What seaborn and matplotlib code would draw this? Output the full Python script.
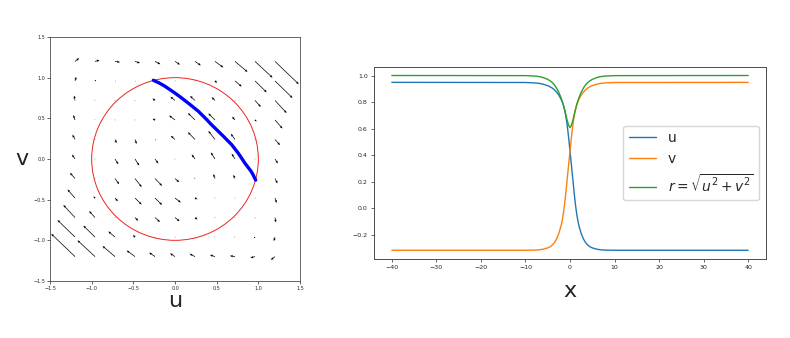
import numpy as np
import pandas as pd
import matplotlib
matplotlib.use("Agg")
import matplotlib.pyplot as plt
import seaborn as sns

# ---------------- data ----------------
# quiver grid (columns: u, rows: v from top to bottom)
grid_u = [-1.2, -0.96, -0.72, -0.48, -0.24, 0.0, 0.24, 0.48, 0.72, 0.96, 1.2]
grid_v = [1.2, 0.96, 0.72, 0.48, 0.24, 0.0, -0.24, -0.48, -0.72, -0.96, -1.2]

field_du = [
    [0.05, 0.055, 0.06, 0.06, 0.065, 0.06, 0.07, 0.10, 0.15, 0.21, 0.285],
    [0.015, 0.015, 0.01, 0.008, 0.003, -0.005, 0.003, 0.025, 0.08, 0.14, 0.21],
    [-0.01, -0.005, 0.003, -0.005, -0.03, -0.055, -0.06, -0.04, 0.005, 0.07, 0.14],
    [-0.02, -0.005, 0.005, 0.002, -0.03, -0.07, -0.085, -0.08, -0.035, 0.02, 0.09],
    [-0.03, 0.0, 0.02, 0.02, 0.01, -0.05, -0.085, -0.08, -0.05, 0.0, 0.06],
    [-0.035, 0.003, 0.04, 0.05, 0.04, 0.0, -0.04, -0.05, -0.04, -0.003, 0.035],
    [-0.06, 0.0, 0.05, 0.08, 0.085, 0.05, -0.01, -0.02, -0.02, 0.0, 0.03],
    [-0.09, -0.02, 0.035, 0.08, 0.085, 0.07, 0.03, -0.002, -0.005, 0.005, 0.02],
    [-0.14, -0.07, -0.005, 0.04, 0.06, 0.055, 0.03, 0.005, -0.003, 0.005, 0.01],
    [-0.21, -0.14, -0.08, -0.025, -0.003, 0.005, -0.003, -0.008, -0.01, -0.015, -0.015],
    [-0.285, -0.21, -0.15, -0.10, -0.07, -0.06, -0.065, -0.06, -0.06, -0.055, -0.05],
]
field_dv = [
    [0.04, 0.015, -0.01, -0.02, -0.035, -0.04, -0.05, -0.075, -0.13, -0.20, -0.28],
    [0.05, 0.015, -0.005, -0.005, -0.003, 0.005, -0.003, -0.025, -0.07, -0.14, -0.21],
    [0.06, 0.01, -0.003, 0.005, 0.025, 0.045, 0.055, 0.04, -0.005, -0.08, -0.155],
    [0.06, 0.008, -0.005, -0.002, 0.015, 0.055, 0.085, 0.08, 0.04, -0.02, -0.105],
    [0.06, 0.0, -0.045, -0.055, -0.01, 0.045, 0.09, 0.105, 0.07, 0.0, -0.07],
    [0.055, -0.003, -0.065, -0.08, -0.055, 0.0, 0.055, 0.08, 0.065, 0.003, -0.055],
    [0.07, 0.0, -0.07, -0.105, -0.09, -0.045, 0.01, 0.055, 0.045, 0.0, -0.06],
    [0.105, 0.02, -0.04, -0.08, -0.085, -0.055, -0.015, 0.002, 0.005, -0.008, -0.06],
    [0.155, 0.08, 0.005, -0.04, -0.055, -0.045, -0.025, -0.005, 0.003, -0.01, -0.06],
    [0.21, 0.14, 0.07, 0.025, 0.003, -0.005, 0.003, 0.005, 0.005, -0.015, -0.05],
    [0.28, 0.20, 0.13, 0.075, 0.05, 0.04, 0.035, 0.02, 0.01, -0.015, -0.04],
]

circle_center = (0.0, 0.0)
circle_radius = 1.0

# phase-plane trajectory (blue curve)
traj_u = [-0.26, -0.19, -0.12, -0.05, 0.0, 0.08, 0.18, 0.28, 0.38, 0.43,
          0.48, 0.58, 0.68, 0.76, 0.84, 0.912, 0.935, 0.968]
traj_v = [0.968, 0.935, 0.894, 0.845, 0.81, 0.75, 0.67, 0.587, 0.485, 0.43,
          0.38, 0.28, 0.176, 0.07, -0.053, -0.15, -0.19, -0.26]

# profiles along x
x_vals = [-40, -10, -8, -7, -6, -5, -4.5, -4, -3.5, -3, -2.5, -2, -1.75, -1.5,
          -1.25, -1, -0.75, -0.5, -0.25, 0, 0.25, 0.5, 0.75, 1, 1.25, 1.5, 1.75,
          2, 2.5, 3, 3.5, 4, 4.5, 5, 6, 7, 8, 10, 40]
u_vals = [0.950, 0.949, 0.946, 0.943, 0.936, 0.925, 0.917, 0.907, 0.894, 0.876,
          0.853, 0.822, 0.803, 0.780, 0.748, 0.708, 0.655, 0.590, 0.515, 0.430,
          0.348, 0.264, 0.178, 0.094, 0.020, -0.042, -0.092, -0.132, -0.190,
          -0.232, -0.260, -0.279, -0.292, -0.300, -0.310, -0.315, -0.317,
          -0.318, -0.318]
v_vals = [-0.318, -0.318, -0.317, -0.315, -0.310, -0.300, -0.292, -0.279, -0.260,
          -0.232, -0.190, -0.132, -0.092, -0.042, 0.020, 0.094, 0.178, 0.264,
          0.348, 0.430, 0.515, 0.590, 0.655, 0.708, 0.748, 0.780, 0.803, 0.822,
          0.853, 0.876, 0.894, 0.907, 0.917, 0.925, 0.936, 0.943, 0.946, 0.949,
          0.950]

left_ticks = [-1.5, -1.0, -0.5, 0.0, 0.5, 1.0, 1.5]
right_xticks = [-40, -30, -20, -10, 0, 10, 20, 30, 40]
right_yticks = [-0.2, 0.0, 0.2, 0.4, 0.6, 0.8, 1.0]

# ---------------- style ----------------
sns.set_style("ticks")
plt.rcParams["font.family"] = ["DejaVu Sans"]
plt.rcParams["axes.edgecolor"] = "0.3"

fig = plt.figure(figsize=(7.9, 3.38), dpi=100)
ax1 = fig.add_axes([50 / 790, 57 / 338, 250 / 790, 244 / 338])
ax2 = fig.add_axes([374 / 790, 79 / 338, 392 / 790, 192 / 338])

# ---------------- left: phase plane ----------------
GU, GV = np.meshgrid(np.array(grid_u), np.array(grid_v))
ax1.quiver(GU, GV, np.array(field_du), np.array(field_dv),
           angles="xy", scale_units="xy", scale=1, color="black",
           width=0.0028, headwidth=3.5, headlength=4, headaxislength=3.5,
           zorder=2)
ax1.add_patch(plt.Circle(circle_center, circle_radius, fill=False,
                         color="#ee2222", lw=0.7, zorder=1))
sns.lineplot(x=traj_u, y=traj_v, sort=False, estimator=None, color="blue",
             lw=2.4, ax=ax1, zorder=3)
ax1.set_xlim(-1.5, 1.5)
ax1.set_ylim(-1.5, 1.5)
ax1.set_xticks(left_ticks)
ax1.set_yticks(left_ticks)
ax1.tick_params(labelsize=3.5, length=2, width=0.5, pad=1.5)
ax1.set_xlabel("u", fontsize=16, labelpad=0)
ax1.set_ylabel("v", fontsize=16, rotation=0, labelpad=8, va="center")
for s in ax1.spines.values():
    s.set_linewidth(0.6)

# ---------------- right: profiles ----------------
sns.lineplot(x=x_vals, y=u_vals, color="#1f77b4", lw=1.0, ax=ax2, label="u")
sns.lineplot(x=x_vals, y=v_vals, color="#ff7f0e", lw=1.0, ax=ax2, label="v")
r_vals = np.hypot(np.array(u_vals), np.array(v_vals))
sns.lineplot(x=x_vals, y=r_vals, color="#2ca02c", lw=1.0, ax=ax2,
             label=r"$r = \sqrt{u^2 + v^2}$")
ax2.set_xticks(right_xticks)
ax2.set_yticks(right_yticks)
ax2.set_xlim(-44, 44)
ax2.set_ylim(-0.384, 1.066)
ax2.tick_params(labelsize=4.5, length=2.5, width=0.5, pad=2)
ax2.set_xlabel("x", fontsize=16, labelpad=8)
ax2.set_ylabel("")
for s in ax2.spines.values():
    s.set_linewidth(0.7)
ax2.legend(loc="center right", fontsize=10, frameon=True, framealpha=0.8,
           edgecolor="0.8", handlelength=2.0)

fig.savefig("out.png", dpi=100)
